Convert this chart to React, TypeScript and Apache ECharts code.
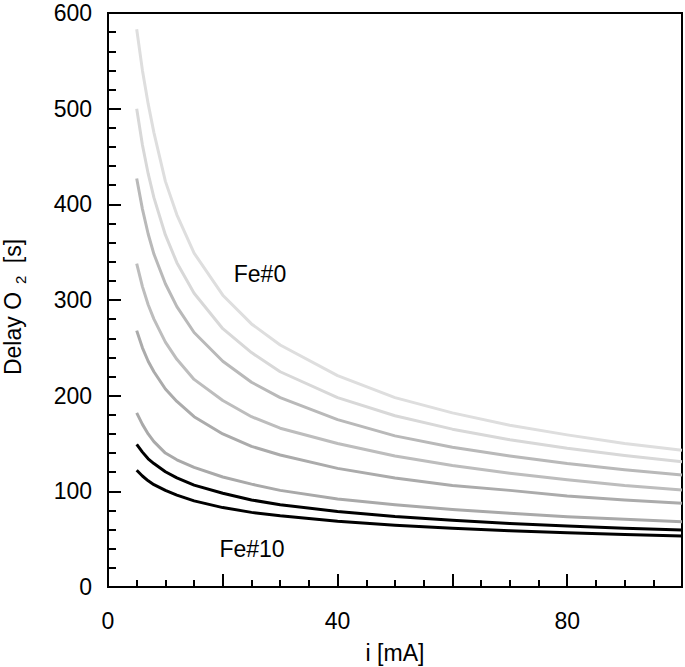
import React, { useEffect, useRef } from "react";
import * as echarts from "echarts";

const currents = [5, 6, 7, 8, 10, 12, 15, 20, 25, 30, 40, 50, 60, 70, 80, 90, 100];

const fe0 = [583, 540, 505, 475, 424, 389, 349, 305, 275, 253, 221, 198, 182, 169, 159, 150, 143];
const fe1 = [500, 462, 432, 407, 368, 339, 307, 270, 245, 225, 198, 179, 165, 154, 145, 137.5, 131];
const fe2 = [427, 395, 369, 348, 317, 293, 266, 236, 214, 198, 175, 158, 146, 137, 129, 122.5, 117];
const fe3 = [338, 314, 295, 280, 256, 238, 217, 195, 178, 166, 150, 137, 127, 119, 112, 106, 101.5];
const fe4 = [268, 250, 236, 225, 207, 194, 178, 160, 147, 138, 124, 114, 106, 101, 95, 91, 87.5];
const fe5 = [182, 170, 160, 152, 140, 133, 125, 115, 107.5, 101, 92, 86, 81, 77, 73.5, 70.8, 68.3];
const fe6 = [149, 141, 134, 129, 120.5, 114, 106.5, 98, 91, 86, 79, 73.6, 69.7, 66.4, 63.8, 61.5, 59.6];
const fe7 = [122, 116, 111, 107, 101, 96, 90, 83, 78, 74.4, 68.7, 64.6, 61.4, 58.9, 56.8, 54.9, 53.3];

const seriesValues = [fe0, fe1, fe2, fe3, fe4, fe5, fe6, fe7];
const seriesColors = ["#dedede", "#d8d8d8", "#b9b9b9", "#bdbdbd", "#ababab", "#a9a9a9", "#000000", "#000000"];

const xTicks = [0, 40, 80];
const labelTop = "Fe#0";
const labelBottom = "Fe#10";

const FONT = "'Liberation Sans', Arial, Helvetica, sans-serif";

export default function App() {
  const ref = useRef<HTMLDivElement>(null);
  useEffect(() => {
    if (!ref.current) return;
    const chart = echarts.init(ref.current, undefined, { renderer: "svg" });
    const series = seriesValues.map((vals, i) => ({
      type: "line",
      name: "Fe#" + i,
      data: currents.map((x, j) => [x, vals[j]]),
      showSymbol: false,
      smooth: false,
      lineStyle: { color: seriesColors[i], width: 3, join: "round", cap: "butt" },
      z: 2 + i,
    }));
    chart.setOption({
      animation: false,
      backgroundColor: "#ffffff",
      textStyle: { fontFamily: FONT },
      grid: {
        left: 108,
        right: 3,
        top: 13,
        bottom: 80,
        show: true,
        borderColor: "#000",
        borderWidth: 2,
        containLabel: false,
        outerBoundsMode: "none",
      },
      xAxis: {
        type: "value",
        min: 0,
        max: 100,
        interval: 20,
        name: "i [mA]",
        nameLocation: "middle",
        nameGap: 54,
        nameTextStyle: { fontSize: 23, color: "#000", fontFamily: FONT },
        axisLine: { show: true, onZero: false, lineStyle: { color: "#000", width: 2 } },
        axisTick: { show: true, inside: true, length: 13, lineStyle: { color: "#000", width: 2 } },
        minorTick: { show: true, splitNumber: 4, length: 7, lineStyle: { color: "#000", width: 2 } },
        splitLine: { show: false },
        axisLabel: {
          fontSize: 23,
          color: "#000",
          fontFamily: FONT,
          margin: 22,
          formatter: (v: number) => (xTicks.includes(v) ? String(v) : ""),
        },
      },
      yAxis: {
        type: "value",
        min: 0,
        max: 600,
        interval: 100,
        name: "{a|Delay O}{b|2}{a| [s]}",
        nameLocation: "middle",
        nameRotate: 90,
        nameGap: 80,
        nameTextStyle: {
          color: "#000",
          fontFamily: FONT,
          padding: [0, 14, 0, 0],
          rich: {
            a: { fontSize: 23, color: "#000", fontFamily: FONT },
            b: { fontSize: 15, color: "#000", fontFamily: FONT, padding: [16, 6, 0, 8] },
          },
        },
        axisLine: { show: true, onZero: false, lineStyle: { color: "#000", width: 2 } },
        axisTick: { show: true, inside: true, length: 13, lineStyle: { color: "#000", width: 2 } },
        minorTick: { show: true, splitNumber: 5, length: 8, lineStyle: { color: "#000", width: 2 } },
        splitLine: { show: false },
        axisLabel: { fontSize: 23, color: "#000", fontFamily: FONT, margin: 16 },
      },
      graphic: [
        {
          type: "text",
          x: 260,
          y: 274,
          style: { text: labelTop, fontSize: 23, fill: "#000", fontFamily: FONT, align: "center", verticalAlign: "middle" },
        },
        {
          type: "text",
          x: 252,
          y: 549,
          style: { text: labelBottom, fontSize: 23, fill: "#000", fontFamily: FONT, align: "center", verticalAlign: "middle" },
        },
      ],
      series,
    });
    return () => chart.dispose();
  }, []);
  return <div ref={ref} style={{ position: "fixed", left: 0, top: 0, width: 685, height: 667 }} />;
}
